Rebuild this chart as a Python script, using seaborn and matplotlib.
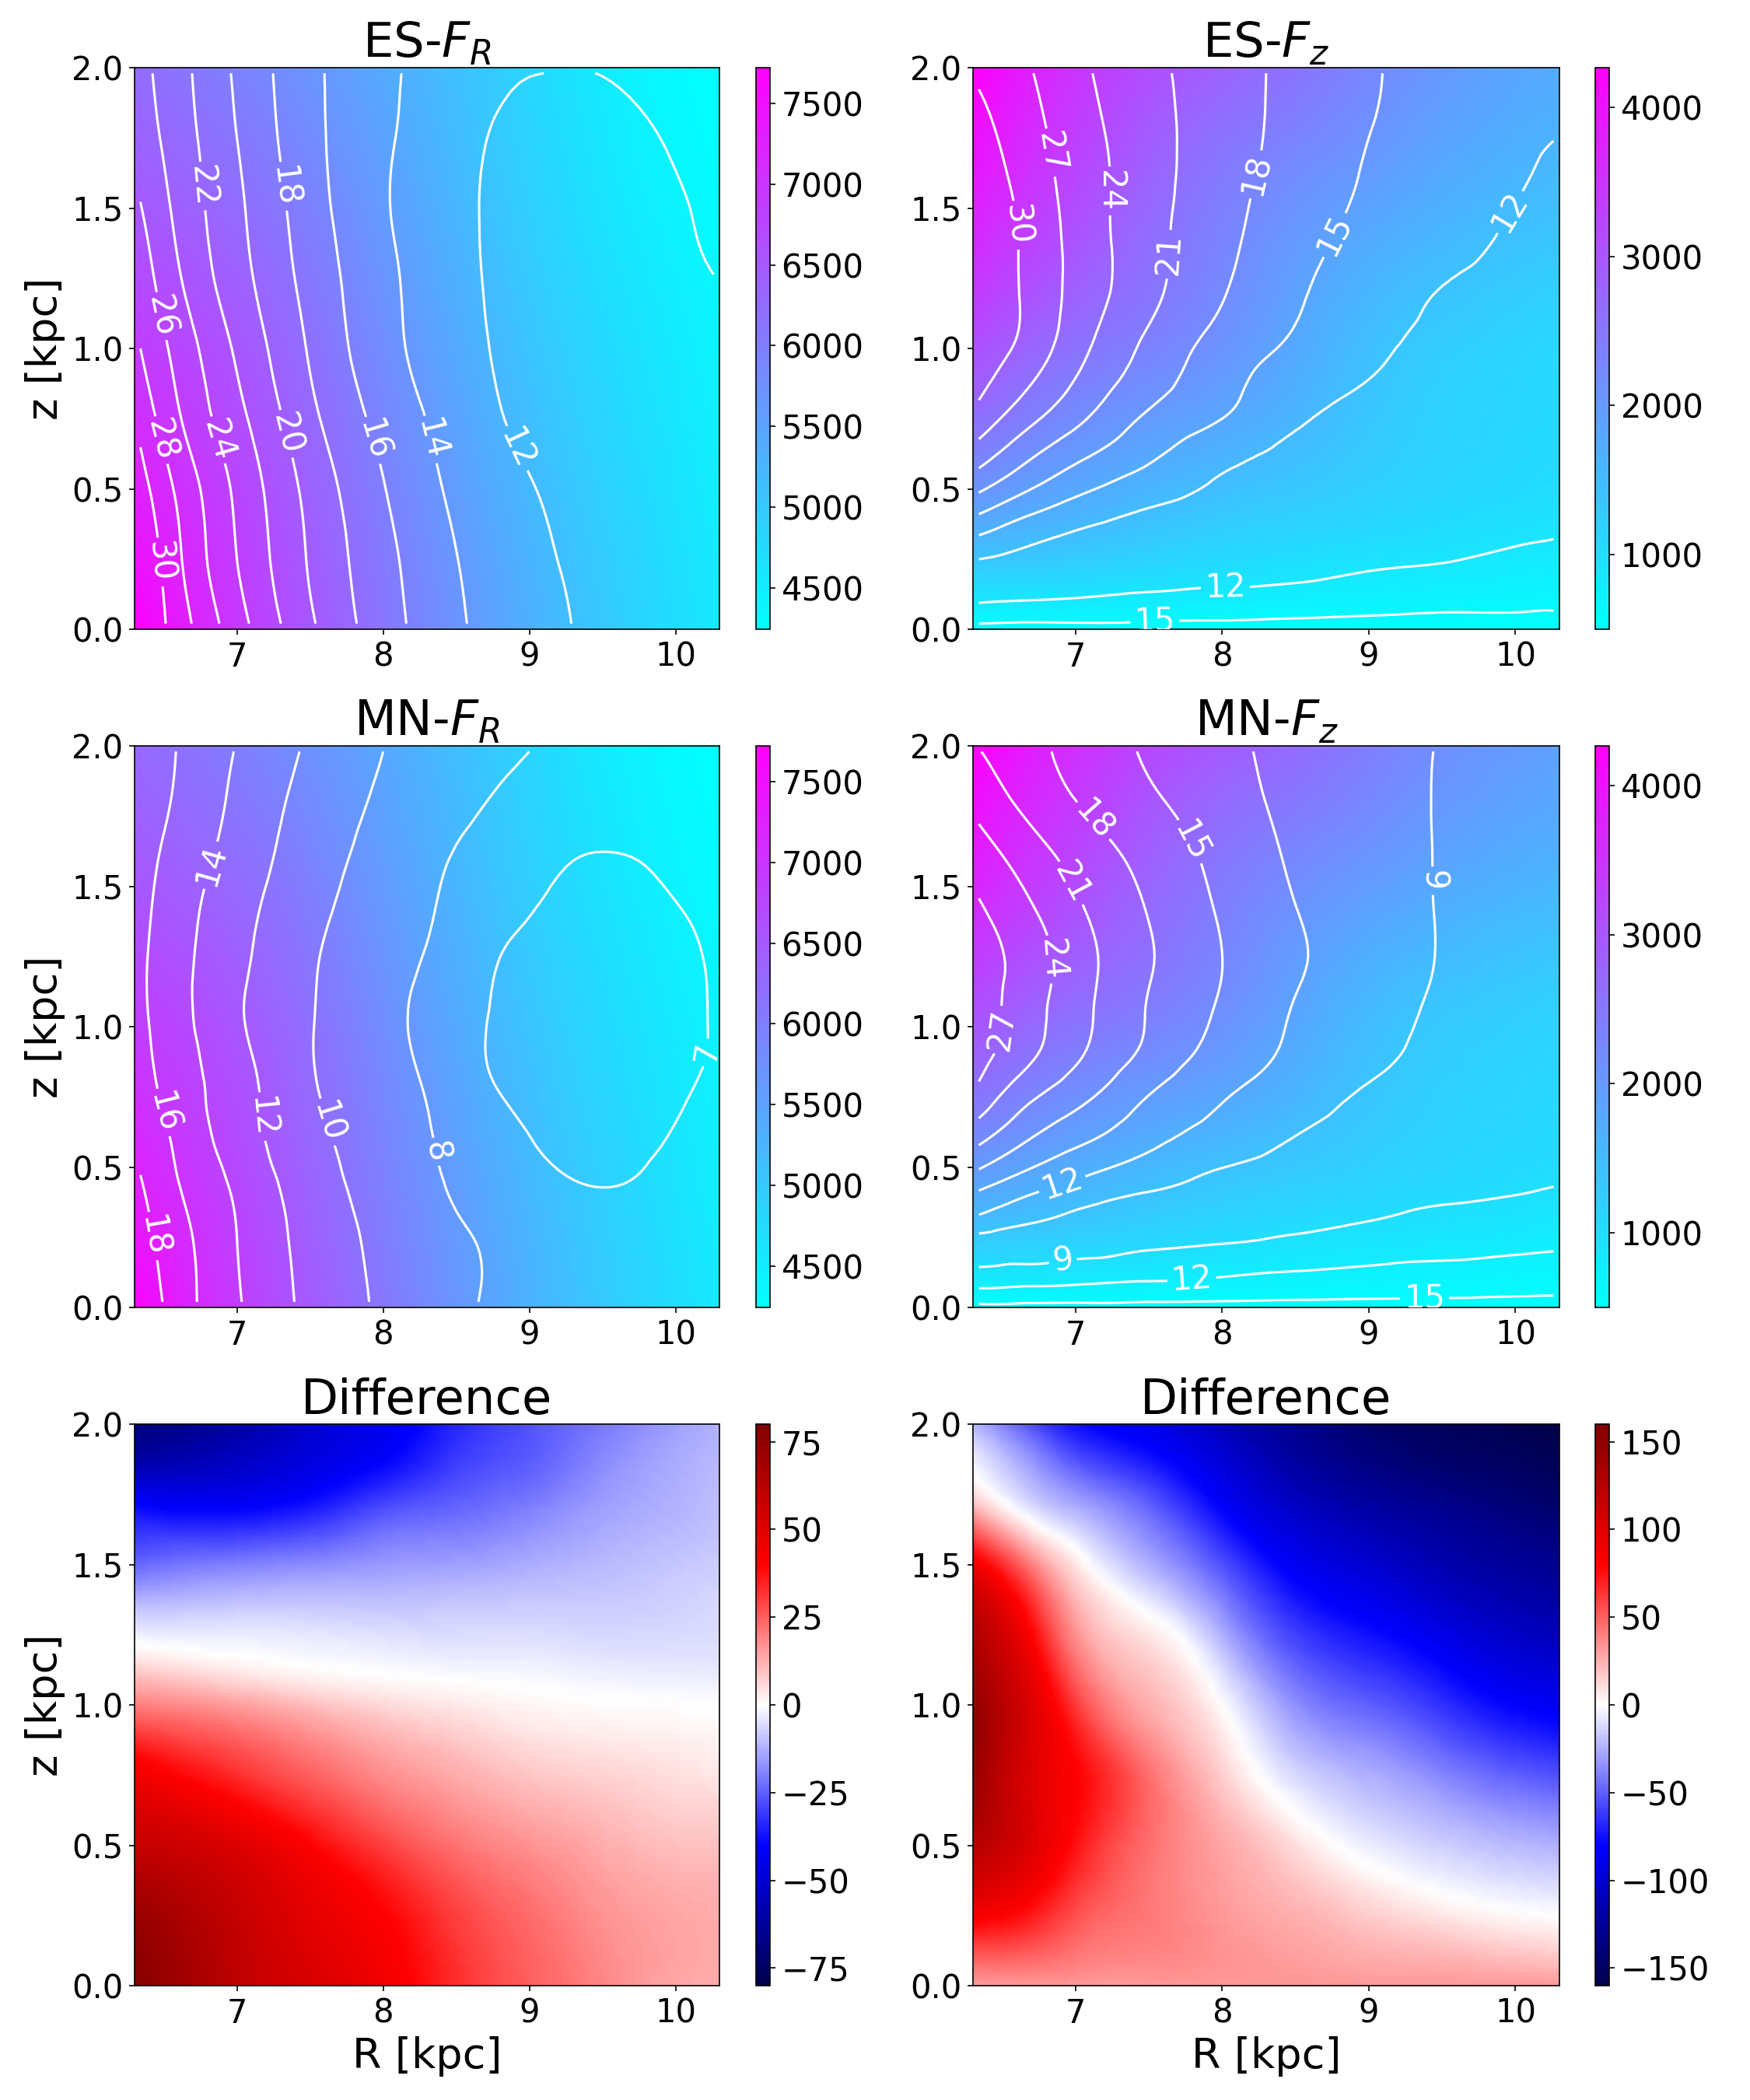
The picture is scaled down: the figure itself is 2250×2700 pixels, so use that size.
import numpy as np
import matplotlib
matplotlib.use("Agg")
import matplotlib.pyplot as plt
import matplotlib.tri as mtri
import seaborn as sns

# ---------- colour field axes ----------
color_R = [6.3, 7.0, 8.0, 9.0, 10.0, 10.3]
color_z = [0.0, 0.25, 0.5, 1.0, 1.5, 2.0]

es_fr_color = [
    [7724, 6950, 6120, 5320, 4700, 4540],
    [7500, 6880, 6060, 5270, 4670, 4510],
    [7300, 6780, 5980, 5200, 4620, 4480],
    [6900, 6550, 5800, 5050, 4520, 4400],
    [6520, 6250, 5600, 4900, 4400, 4300],
    [6250, 5950, 5400, 4800, 4300, 4242],
]
mn_fr_color = [
    [7680, 6900, 6090, 5300, 4690, 4530],
    [7440, 6830, 6020, 5250, 4660, 4500],
    [7250, 6730, 5950, 5185, 4610, 4470],
    [6890, 6540, 5800, 5050, 4520, 4400],
    [6540, 6270, 5615, 4910, 4410, 4305],
    [6300, 6000, 5440, 4825, 4315, 4250],
]
es_fz_color = [
    [500, 500, 500, 500, 500, 500],
    [1350, 1250, 1050, 920, 820, 780],
    [2080, 1780, 1440, 1200, 1030, 990],
    [3100, 2570, 2080, 1440, 1140, 1080],
    [3800, 3130, 2380, 1850, 1500, 1440],
    [4267, 3500, 2830, 2270, 1820, 1740],
]
mn_fz_color = [
    [500, 500, 500, 500, 500, 500],
    [1300, 1200, 1020, 900, 810, 770],
    [2000, 1720, 1410, 1190, 1040, 1000],
    [3000, 2540, 2100, 1480, 1200, 1150],
    [3730, 3140, 2440, 1950, 1620, 1570],
    [4267, 3570, 2940, 2410, 1980, 1900],
]

# ---------- contour field: ES F_R ----------
es_fr_R = [6.34, 6.6, 7.0, 7.5, 8.0, 8.5, 9.0, 9.25, 9.5, 10.0, 10.26]
es_fr_z = [0.02, 0.25, 0.5, 0.75, 1.0, 1.25, 1.5, 1.75, 1.98]
es_fr_lines = [
    [32.0, 29.0, 24.8, 20.3, 16.9, 14.3, 12.7, 12.1, 11.4, 10.5, 10.0],
    [32.0, 28.3, 24.0, 19.8, 16.6, 14.05, 12.4, 11.9, 11.5, 10.6, 10.2],
    [30.8, 27.6, 23.6, 19.4, 16.1, 13.6, 12.1, 11.55, 11.0, 10.2, 9.9],
    [29.4, 26.2, 22.6, 18.5, 15.4, 13.1, 11.6, 11.2, 10.9, 10.4, 10.2],
    [28.0, 25.3, 21.7, 17.8, 14.7, 12.7, 11.4, 11.15, 11.0, 10.7, 10.7],
    [27.1, 24.2, 20.8, 17.3, 14.5, 12.55, 11.3, 11.1, 11.1, 11.4, 11.95],
    [26.1, 23.5, 20.4, 16.9, 14.2, 12.45, 11.3, 11.2, 11.3, 11.8, 12.4],
    [25.1, 23.0, 20.0, 16.6, 14.3, 12.6, 11.55, 11.55, 11.6, 12.25, 13.1],
    [24.6, 22.7, 19.7, 16.5, 14.4, 12.9, 12.03, 11.99, 12.02, 12.9, 13.8],
]
es_fr_levels = [12, 14, 16, 18, 20, 22, 24, 26, 28, 30]
es_fr_label_at = [(6.49, .24), (6.53, .68), (6.53, 1.12), (6.91, .68), (6.8, 1.58),
                  (7.37, .70), (7.36, 1.58), (7.98, .68), (8.36, .68), (8.98, .66)]

# ---------- contour field: MN F_R ----------
mn_fr_R = [6.34, 6.6, 7.0, 7.5, 8.0, 8.5, 8.8, 9.2, 9.6, 10.0, 10.26]
mn_fr_z = [0.02, 0.25, 0.45, 0.6, 0.8, 1.0, 1.2, 1.4, 1.6, 1.8, 1.98]
mn_fr_lines = [
    [19.5, 17.0, 14.2, 11.5, 9.7, 8.3, 7.8, 7.45, 7.35, 7.5, 7.7],
    [18.7, 16.7, 14.0, 11.3, 9.5, 8.2, 7.75, 7.4, 7.3, 7.5, 7.8],
    [18.1, 16.0, 13.6, 10.9, 9.18, 7.8, 7.4, 7.07, 6.97, 7.3, 7.7],
    [17.4, 15.6, 13.0, 10.6, 8.88, 7.7, 7.25, 6.85, 6.78, 7.08, 7.5],
    [16.8, 15.0, 12.8, 10.2, 8.6, 7.45, 6.95, 6.7, 6.6, 6.85, 7.13],
    [16.4, 14.7, 12.3, 10.1, 8.45, 7.3, 6.9, 6.6, 6.5, 6.75, 7.05],
    [16.3, 14.6, 12.4, 10.2, 8.57, 7.45, 6.96, 6.65, 6.55, 6.75, 7.08],
    [16.5, 14.8, 12.7, 10.5, 8.95, 7.65, 7.2, 6.85, 6.72, 6.93, 7.25],
    [16.8, 15.2, 13.2, 10.9, 9.3, 7.9, 7.5, 7.08, 6.97, 7.2, 7.55],
    [17.2, 15.7, 13.6, 11.3, 9.7, 8.4, 7.85, 7.45, 7.3, 7.35, 7.65],
    [17.6, 15.9, 13.9, 11.7, 10.0, 8.9, 8.3, 7.8, 7.55, 7.55, 7.85],
]
mn_fr_levels = [7, 8, 10, 12, 14, 16, 18]
mn_fr_label_at = [(6.49, .26), (6.54, .70), (6.79, 1.58), (7.19, .68), (7.65, .665),
                  (8.39, .557), (10.18, .91)]

# ---------- contour fields: F_z ----------
fz_R = [6.34, 6.7, 7.1, 7.5, 8.0, 8.5, 9.0, 9.5, 10.0, 10.26]
fz_z = [0.02, 0.06, 0.1, 0.2, 0.3, 0.4, 0.5, 0.6, 0.75, 0.9, 1.05, 1.2, 1.4, 1.6, 1.8, 1.98]
mn_fz_z = [0.01, 0.06, 0.1, 0.2, 0.3, 0.4, 0.5, 0.6, 0.75, 0.9, 1.05, 1.2, 1.4, 1.6, 1.8, 1.98]
es_fz_lines = [
    [15.0, 15.2, 15.1, 15.2, 15.4, 15.6, 15.8, 16.0, 16.4, 16.5],
    [13.4, 13.6, 13.7, 14.0, 14.1, 14.4, 14.7, 15.0, 15.0, 15.1],
    [11.8, 12.1, 12.4, 12.8, 13.1, 13.4, 13.8, 14.2, 14.4, 14.6],
    [10.9, 10.8, 10.8, 10.9, 11.0, 11.4, 12.1, 12.5, 13.0, 13.3],
    [13.7, 12.0, 11.0, 10.6, 10.4, 10.5, 11.0, 11.4, 11.95, 12.2],
    [17.6, 14.7, 12.7, 11.5, 10.8, 10.4, 10.6, 10.8, 11.0, 11.4],
    [21.5, 18.0, 15.2, 13.3, 11.5, 10.7, 10.5, 10.5, 10.6, 10.9],
    [24.8, 20.8, 17.6, 15.2, 12.6, 11.1, 10.6, 10.5, 10.5, 10.6],
    [28.8, 24.6, 20.8, 17.5, 15.0, 12.4, 11.2, 10.8, 10.6, 10.6],
    [31.0, 27.4, 23.0, 19.5, 16.1, 13.6, 12.05, 11.2, 10.9, 10.8],
    [32.3, 29.0, 24.4, 20.7, 17.2, 14.8, 12.7, 11.55, 11.1, 10.95],
    [33.0, 29.1, 25.2, 21.8, 18.2, 15.4, 13.4, 11.9, 11.3, 11.1],
    [33.0, 29.0, 25.2, 22.0, 18.8, 16.1, 14.2, 12.9, 11.7, 11.3],
    [32.0, 28.5, 25.0, 22.2, 19.1, 16.8, 14.7, 13.3, 12.2, 11.6],
    [30.8, 27.8, 24.6, 22.1, 19.3, 17.1, 15.1, 13.8, 12.6, 12.2],
    [29.6, 27.1, 24.1, 21.8, 19.3, 17.2, 15.3, 14.0, 13.0, 12.5],
]
es_fz_levels = [12, 15, 18, 21, 24, 27, 30]
es_fz_label_at = [(6.61, 1.44), (6.86, 1.70), (7.28, 1.56), (7.64, 1.335), (8.23, 1.62),
                  (8.78, 1.40), (9.95, 1.49), (8.02, .16), (7.54, .04)]

mn_fz_lines = [
    [15.2, 15.3, 15.4, 15.5, 15.6, 15.7, 15.8, 15.9, 16.1, 16.3],
    [12.4, 12.7, 12.8, 13.2, 13.4, 13.8, 14.0, 14.2, 14.4, 14.5],
    [10.7, 11.0, 11.5, 11.8, 12.2, 12.7, 13.0, 13.4, 13.6, 13.8],
    [7.7, 7.9, 8.3, 9.1, 9.7, 10.3, 10.9, 11.3, 11.8, 12.0],
    [10.7, 9.0, 7.9, 7.4, 7.7, 8.4, 9.1, 9.9, 10.4, 10.6],
    [14.4, 11.9, 10.0, 8.7, 7.9, 7.8, 8.0, 8.5, 9.0, 9.3],
    [18.3, 15.1, 12.7, 10.9, 9.05, 8.1, 7.6, 7.7, 8.2, 8.4],
    [21.7, 17.9, 15.2, 12.8, 10.7, 8.9, 7.9, 7.4, 7.5, 7.7],
    [26.0, 21.4, 18.2, 14.9, 12.2, 10.3, 8.6, 7.5, 6.95, 6.9],
    [28.0, 24.4, 20.6, 17.2, 13.8, 11.4, 9.7, 8.1, 7.0, 6.6],
    [28.6, 25.0, 21.2, 17.8, 14.6, 11.8, 10.1, 8.5, 7.2, 6.8],
    [28.4, 25.4, 21.5, 18.2, 15.0, 12.3, 10.4, 8.8, 7.5, 7.1],
    [27.5, 24.4, 20.8, 17.9, 14.7, 12.1, 10.3, 8.85, 7.8, 7.4],
    [25.5, 22.4, 19.4, 17.0, 14.1, 11.6, 10.0, 8.85, 7.9, 7.6],
    [23.0, 20.0, 17.5, 15.5, 13.3, 11.2, 9.85, 8.85, 8.0, 7.7],
    [21.1, 18.9, 16.4, 14.7, 12.8, 11.0, 9.7, 8.9, 8.0, 7.7],
]
mn_fz_levels = [9, 12, 15, 18, 21, 24, 27]
mn_fz_label_at = [(6.5, .987), (6.84, 1.24), (7.0, 1.52), (7.19, 1.766), (7.81, 1.667),
                  (9.51, 1.52), (6.91, .437), (6.91, .18), (7.79, .111), (9.38, .032)]

# ---------- difference fields ----------
diff_R = [6.3, 7.0, 7.5, 8.0, 8.5, 9.0, 9.5, 10.0, 10.3]
diff_fr_z = [0.0, 0.25, 0.5, 0.75, 1.0, 1.1, 1.2, 1.35, 1.5, 1.7, 1.85, 2.0]
diff_fr = [
    [78, 60, 52, 44, 33, 25, 19, 14, 13],
    [72, 58, 48, 40, 30, 23, 17, 14, 13],
    [58, 50, 40, 30, 22, 17, 13, 10, 10],
    [45, 33, 25, 18, 13, 9, 7, 5, 4],
    [20, 15, 10, 6, 3.5, 1.5, .5, 0, -.3],
    [10, 5, 2, .5, -.5, -1, -2, -2.5, -3],
    [1, -1, -2, -3, -4, -4, -5, -5, -5],
    [-10, -8.5, -8.5, -9, -8.5, -8, -8, -7, -6],
    [-24, -20, -18, -16, -15, -13, -11, -9, -8],
    [-38, -40, -36, -28, -24, -20, -15, -12, -10],
    [-58, -52, -46, -39, -30, -25, -18, -13, -11],
    [-70, -60, -50, -44, -34, -27, -21, -15, -12],
]
diff_fz_R = [6.3, 6.7, 7.0, 7.5, 8.0, 8.5, 9.0, 9.5, 10.0, 10.3]
diff_fz_z = [0.0, 0.1, 0.25, 0.5, 0.75, 1.0, 1.25, 1.5, 1.7, 1.85, 2.0]
diff_fz = [
    [30, 32, 32, 32, 32, 32, 32, 32, 32, 32],
    [50, 48, 42, 38, 34, 30, 26, 24, 20, 18],
    [85, 72, 55, 42, 32, 25, 16, 8, 2, 0],
    [125, 100, 75, 45, 28, 10, -6, -15, -22, -25],
    [145, 100, 80, 45, 15, -12, -25, -38, -50, -55],
    [148, 100, 62, 25, 0, -35, -50, -65, -80, -85],
    [130, 80, 35, 8, -25, -60, -75, -90, -105, -110],
    [90, 40, 8, -25, -55, -85, -100, -115, -125, -130],
    [25, -10, -25, -48, -80, -105, -120, -130, -140, -145],
    [-2, -30, -50, -70, -95, -120, -135, -145, -150, -155],
    [-22, -55, -75, -90, -110, -130, -145, -152, -158, -160],
]

R_ticks = [7, 8, 9, 10]
z_ticks = [0.0, 0.5, 1.0, 1.5, 2.0]
fr_ticks = [4500, 5000, 5500, 6000, 6500, 7000, 7500]
fz_ticks = [1000, 2000, 3000, 4000]
dfr_ticks = [-75, -50, -25, 0, 25, 50, 75]
dfz_ticks = [-150, -100, -50, 0, 50, 100, 150]

# ---------- style ----------
sns.set_style("ticks", {"axes.edgecolor": "black", "text.color": "black",
                        "axes.labelcolor": "black", "xtick.color": "black",
                        "ytick.color": "black", "xtick.direction": "out",
                        "ytick.direction": "out"})
plt.rcParams["font.family"] = ["DejaVu Sans"]
plt.rcParams["mathtext.fontset"] = "dejavusans"
cool = sns.color_palette("cool", as_cmap=True)
seismic = sns.color_palette("seismic", as_cmap=True)

W, H = 2250.0, 2700.0
fig = plt.figure(figsize=(15, 18), dpi=150)
col_px = [(173, 925, 972, 990), (1251, 2005, 2051, 2069)]
row_px = [(87, 809), (959, 1681), (1831, 2553)]


def smooth_surface(R, z, field):
    """Triangulate the table and let matplotlib's own refiner draw it smoothly."""
    nz, nr = len(z), len(R)
    X, Y = np.meshgrid(R, z)
    tris = []
    for j in range(nz - 1):
        for i in range(nr - 1):
            a = j * nr + i
            tris.append([a, a + 1, a + nr])
            tris.append([a + 1, a + nr + 1, a + nr])
    tri = mtri.Triangulation(X.ravel(), Y.ravel(), tris)
    return mtri.UniformTriRefiner(tri).refine_field(np.array(field, float).ravel(), subdiv=3)


def panel(row, col, title, R, z, field, cmap, vmin, vmax, cticks):
    x0, x1, c0, c1 = col_px[col]
    y0, y1 = row_px[row]
    ax = fig.add_axes([x0 / W, 1 - y1 / H, (x1 - x0) / W, (y1 - y0) / H])
    tri, val = smooth_surface(R, z, field)
    mesh = ax.tripcolor(tri, val, cmap=cmap, vmin=vmin, vmax=vmax,
                        shading="gouraud", rasterized=True)
    ax.set_xlim(6.3, 10.3)
    ax.set_ylim(0, 2)
    ax.set_xticks(R_ticks)
    ax.set_yticks(z_ticks)
    ax.tick_params(labelsize=20, length=3.5, width=0.8)
    ax.set_title(title, fontsize=30, pad=6)
    if col == 0:
        ax.set_ylabel("z [kpc]", fontsize=26)
    if row == 2:
        ax.set_xlabel("R [kpc]", fontsize=26)
    cax = fig.add_axes([c0 / W, 1 - y1 / H, (c1 - c0) / W, (y1 - y0) / H])
    cb = fig.colorbar(mesh, cax=cax)
    cb.set_ticks(cticks)
    cb.ax.tick_params(labelsize=20, length=3.5, width=0.8)
    return ax


def lines(ax, R, z, field, levels, label_at):
    tri, val = smooth_surface(R, z, field)
    cs = ax.tricontour(tri, val, levels=levels, colors="white", linewidths=1.5)
    ax.clabel(cs, fmt="%d", fontsize=20, colors="white", inline=True, manual=label_at)


ax = panel(0, 0, r"ES-$F_R$", color_R, color_z, es_fr_color, cool, 4242, 7724, fr_ticks)
lines(ax, es_fr_R, es_fr_z, es_fr_lines, es_fr_levels, es_fr_label_at)
ax = panel(0, 1, r"ES-$F_z$", color_R, color_z, es_fz_color, cool, 496, 4267, fz_ticks)
lines(ax, fz_R, fz_z, es_fz_lines, es_fz_levels, es_fz_label_at)
ax = panel(1, 0, r"MN-$F_R$", color_R, color_z, mn_fr_color, cool, 4242, 7724, fr_ticks)
lines(ax, mn_fr_R, mn_fr_z, mn_fr_lines, mn_fr_levels, mn_fr_label_at)
ax = panel(1, 1, r"MN-$F_z$", color_R, color_z, mn_fz_color, cool, 496, 4267, fz_ticks)
lines(ax, fz_R, mn_fz_z, mn_fz_lines, mn_fz_levels, mn_fz_label_at)
panel(2, 0, "Difference", diff_R, diff_fr_z, diff_fr, seismic, -80, 80, dfr_ticks)
panel(2, 1, "Difference", diff_fz_R, diff_fz_z, diff_fz, seismic, -160, 160, dfz_ticks)

fig.savefig("out.png", dpi=150)
